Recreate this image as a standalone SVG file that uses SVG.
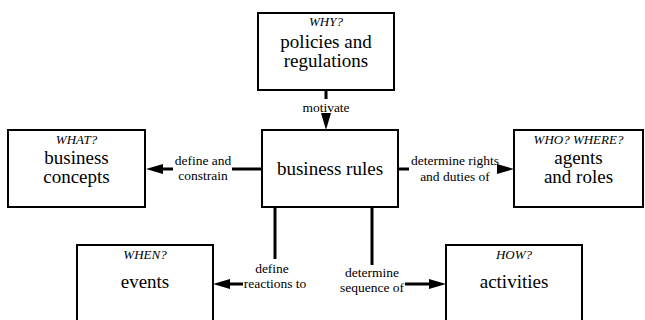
<svg xmlns="http://www.w3.org/2000/svg" width="645" height="320" viewBox="0 0 645 320" font-family="'Liberation Serif', 'Times New Roman', 'DejaVu Serif', serif">
<style>
text{font-family:'Liberation Serif','Times New Roman','DejaVu Serif',serif;fill:#000;text-anchor:middle}
.box{fill:#fff;stroke:#000;stroke-width:2}
.q{font-style:italic;font-size:13px}
.t{font-size:19px}
.l{font-size:13.5px}
.c{fill:none;stroke:#000;stroke-width:3}
</style>
<defs>
<marker id="ah" viewBox="0 0 17 10" refX="7" refY="5" markerWidth="17" markerHeight="10" markerUnits="userSpaceOnUse" orient="auto">
<path d="M0,0 L17,5 L0,10 z" fill="#000"/>
</marker>
</defs>
<rect width="645" height="320" fill="#fff"/>
<g id="connectors">
<path class="c" d="M326,90 V99"/>
<path class="c" d="M326,114 V120" marker-end="url(#ah)"/>
<text class="l" x="326" y="112">motivate</text>
<path class="c" d="M262,169 H232"/>
<path class="c" d="M173,169 H156" marker-end="url(#ah)"/>
<text class="l" x="203" y="165">define and</text>
<text class="l" x="203" y="180">constrain</text>
<path class="c" d="M398,169 H409"/>
<path class="c" d="M497,169 H504" marker-end="url(#ah)"/>
<text class="l" x="455" y="165">determine rights</text>
<text class="l" x="455" y="181">and duties of</text>
<path class="c" d="M275,207 V259"/>
<path class="c" d="M243,284 H223" marker-end="url(#ah)"/>
<text class="l" x="272" y="273">define</text>
<text class="l" x="275" y="288">reactions to</text>
<path class="c" d="M372,207 V265"/>
<path class="c" d="M405,284 H436" marker-end="url(#ah)"/>
<text class="l" x="372" y="277">determine</text>
<text class="l" x="372" y="292">sequence of</text>
</g>
<g id="policies">
<rect class="box" x="258" y="13" width="136" height="77"/>
<text class="q" x="326" y="26">WHY?</text>
<text class="t" x="326" y="48">policies and</text>
<text class="t" x="326" y="67">regulations</text>
</g>
<g id="rules">
<rect class="box" x="262" y="130" width="136" height="77"/>
<text class="t" x="330" y="175">business rules</text>
</g>
<g id="concepts">
<rect class="box" x="8" y="130" width="137" height="77"/>
<text class="q" x="76.5" y="144">WHAT?</text>
<text class="t" x="76.5" y="164">business</text>
<text class="t" x="76.5" y="183">concepts</text>
</g>
<g id="agents">
<rect class="box" x="514" y="130" width="129" height="77"/>
<text class="q" x="578.5" y="144">WHO? WHERE?</text>
<text class="t" x="578.5" y="164">agents</text>
<text class="t" x="578.5" y="183">and roles</text>
</g>
<g id="events">
<rect class="box" x="77" y="245" width="136" height="90"/>
<text class="q" x="145" y="259">WHEN?</text>
<text class="t" x="145" y="288">events</text>
</g>
<g id="activities">
<rect class="box" x="446" y="245" width="136" height="90"/>
<text class="q" x="514" y="259">HOW?</text>
<text class="t" x="514" y="288">activities</text>
</g>
</svg>
